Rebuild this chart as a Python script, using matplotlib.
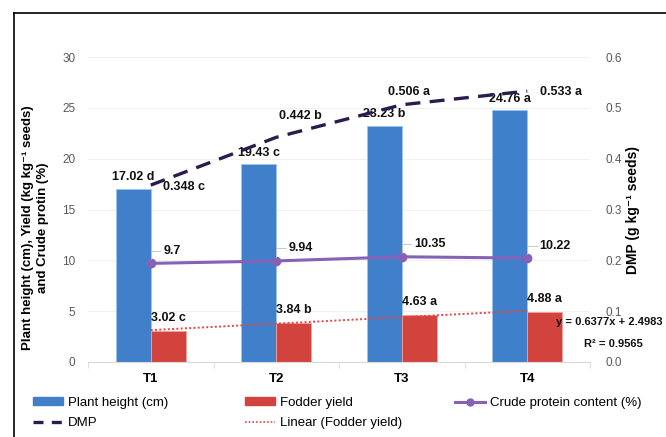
import matplotlib.pyplot as plt
from matplotlib.lines import Line2D
from matplotlib.patches import Patch

# data
treatments = ['T1', 'T2', 'T3', 'T4']
plant_height = [17.02, 19.43, 23.23, 24.76]
height_letters = ['d', 'c', 'b', 'a']
fodder_yield = [3.02, 3.84, 4.63, 4.88]
fodder_letters = ['c', 'b', 'a', 'a']
crude_protein = [9.7, 9.94, 10.35, 10.22]
dmp = [0.348, 0.442, 0.506, 0.533]
dmp_letters = ['c', 'b', 'a', 'a']
trend_slope, trend_icpt, trend_r2 = 0.6377, 2.4983, 0.9565

BLUE = '#4080CB'
RED = '#D3433E'
PURPLE = '#8562B6'
DARK = '#2B1B4E'

plt.rcParams['font.family'] = ['Liberation Sans', 'DejaVu Sans']

W, H = 666, 437
fig = plt.figure(figsize=(W / 100, H / 100), dpi=100)
ax = fig.add_axes([88 / W, 1 - 362 / H, (590 - 88) / W, (362 - 57) / H])
ax2 = ax.twinx()

x = list(range(len(treatments)))
bw = 0.28
xb = [i - bw / 2 for i in x]
xr = [i + bw / 2 for i in x]

ax.bar(xb, plant_height, bw, color=BLUE, edgecolor='#9DC3EE', linewidth=0.6, zorder=2)
ax.bar(xr, fodder_yield, bw, color=RED, edgecolor='#F0A09C', linewidth=0.6, zorder=2)

# linear trend of fodder yield
trend = [trend_slope * (i + 1) + trend_icpt for i in x]
ax.plot(x, trend, ls=(0, (1, 1.2)), color='#E8443E', lw=1.4, zorder=3)

ax.plot(x, crude_protein, color=PURPLE, lw=2.2, marker='o', ms=6, zorder=4)
ax2.plot(x, dmp, color=DARK, lw=2.4, dashes=(4.5, 2.8), zorder=4)

ax.set_xlim(-0.5, 3.5)
ax.set_ylim(0, 30)
ax2.set_ylim(0, 0.6)
ax.set_yticks(range(0, 31, 5))
ax2.set_yticks([0, 0.1, 0.2, 0.3, 0.4, 0.5, 0.6])
ax2.set_yticklabels(['0.0', '0.1', '0.2', '0.3', '0.4', '0.5', '0.6'])
ax.grid(axis='y', color='#F0F0F0', lw=0.8, zorder=0)
ax.set_axisbelow(True)

for a in (ax, ax2):
    for s in ('top', 'left', 'right'):
        a.spines[s].set_visible(False)
    a.spines['bottom'].set_color('#D9D9D9')
ax2.spines['bottom'].set_visible(False)

ax.tick_params(axis='y', length=0, pad=9, labelsize=8.5, labelcolor='#595959')
ax2.tick_params(axis='y', length=0, pad=11, labelsize=8.5, labelcolor='#595959')

ax.set_xticks(x)
ax.set_xticklabels(treatments, fontweight='bold', fontsize=9.5)
ax.tick_params(axis='x', length=0, pad=8)
ax.set_xticks([-0.5, 0.5, 1.5, 2.5, 3.5], minor=True)
ax.tick_params(axis='x', which='minor', length=4, color='#D9D9D9')

ax.set_ylabel('Plant height (cm), Yield (kg kg⁻¹ seeds)\nand Crude protin (%)',
              fontweight='bold', fontsize=9.5, linespacing=1.3)
ax.yaxis.set_label_coords(-0.078, 0.44)
ax2.set_ylabel('DMP (g kg⁻¹ seeds)', fontweight='bold', fontsize=10, labelpad=3)

lab = dict(fontweight='bold', fontsize=9, color='#111111', zorder=6)

for xi, v, l in zip(xb, plant_height, height_letters):
    ax.annotate(f'{v:.2f} {l}', (xi, v), xytext=(0, 4), textcoords='offset points',
                ha='center', va='bottom', **lab)
for xi, v, l in zip(xr, fodder_yield, fodder_letters):
    ax.annotate(f'{v:.2f} {l}', (xi, v), xytext=(0, 5), textcoords='offset points',
                ha='center', va='bottom', **lab)

for xi, v in zip(x, crude_protein):
    ax.annotate(f'{v:g}', (xi, v), xytext=(9, 9), textcoords='offset points',
                ha='left', va='center', **lab,
                arrowprops=dict(arrowstyle='-', color='#BFBFBF', lw=0.6,
                                connectionstyle='angle,angleA=0,angleB=90,rad=0',
                                shrinkA=0, shrinkB=3))

dmp_offsets = [(9, -1.5), (2, 15), (-10, 9), (9, -1)]
for xi, v, l, off in zip(x, dmp, dmp_letters, dmp_offsets):
    ax2.annotate(f'{v:.3f} {l}', (xi, v), xytext=off, textcoords='offset points',
                 ha='left', va='center', **lab)

eq = dict(fontweight='bold', fontsize=8, color='#111111', va='center')
fig.text(662 / W, 1 - 322 / H, f'y = {trend_slope}x + {trend_icpt}', ha='right', **eq)
fig.text(613 / W, 1 - 344 / H, f'R² = {trend_r2}', ha='center', **eq)

# legend, laid out as three columns like the original
legcols = [
    ([Patch(color=BLUE), Line2D([], [], color=DARK, lw=2.4, dashes=(3, 2.5))],
     ['Plant height (cm)', 'DMP'], 33),
    ([Patch(color=RED), Line2D([], [], color='#E8443E', lw=1.2, ls=(0, (1, 1.2)))],
     ['Fodder yield', 'Linear (Fodder yield)'], 245),
    ([Line2D([], [], color=PURPLE, lw=2.2, marker='o', ms=5)],
     ['Crude protein content (%)'], 455),
]
for handles, labels, px in legcols:
    fig.legend(handles, labels, loc='upper left', bbox_to_anchor=(px / W, 1 - 397 / H),
               frameon=False, borderpad=0, borderaxespad=0, handlelength=2.3,
               handleheight=0.55, handletextpad=0.35, labelspacing=0.62,
               prop={'size': 9.5})

# outer frame of the original figure
fig.add_artist(Line2D([14 / W, 14 / W], [0, 1 - 13 / H], color='black', lw=1.2))
fig.add_artist(Line2D([14 / W, 1], [1 - 13 / H, 1 - 13 / H], color='black', lw=1.2))

fig.savefig('out.png', dpi=100)
